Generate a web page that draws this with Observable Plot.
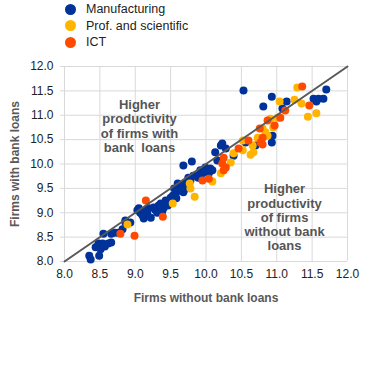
<!DOCTYPE html>
<html><head><meta charset="utf-8">
<script src="https://cdn.jsdelivr.net/npm/d3@7"></script>
<script src="https://cdn.jsdelivr.net/npm/@observablehq/plot@0.6"></script>
<style>
body{margin:0;background:#fff;font-family:"Liberation Sans",Arial,sans-serif;}
#legend{height:50px;position:relative;}
.item{position:absolute;left:65px;height:16px;display:flex;align-items:center;font-size:12.5px;color:#222;}
.sw{width:11px;height:11px;border-radius:50%;margin-right:10px;}
svg text{white-space:pre;}
</style></head><body>
<div id="legend"></div><div id="chart"></div>
<script>
const seriesNames = ["Manufacturing", "Prof. and scientific", "ICT"];
const seriesColors = ["#003299", "#FFB400", "#FF4B00"];
const ticks = [8.0, 8.5, 9.0, 9.5, 10.0, 10.5, 11.0, 11.5, 12.0];
const diagonal = [8, 12];

const manufacturing = [
  [8.35,8.12],[8.37,8.04],[8.49,8.12],[8.44,8.29],[8.48,8.37],[8.54,8.37],[8.51,8.25],[8.57,8.31],
  [8.62,8.37],[8.66,8.39],[8.55,8.57],[8.66,8.57],[8.71,8.59],[8.76,8.59],[8.82,8.66],[8.93,8.80],
  [8.86,8.84],[8.86,8.80],[9.05,9.09],[9.07,9.00],[9.12,8.88],[9.17,8.98],[9.22,8.90],[9.26,9.11],
  [9.31,9.00],[9.36,9.19],[9.40,9.09],[9.46,9.15],[9.50,9.31],[9.57,9.39],[9.60,9.60],[9.64,9.50],
  [9.68,9.42],[9.71,9.60],[9.75,9.72],[9.88,9.76],[9.92,9.87],[9.99,9.93],[9.68,9.97],[9.80,10.05],
  [9.03,9.05],[9.19,9.09],[9.33,9.15],[9.43,9.25],[9.53,9.35],[9.62,9.45],[9.55,9.50],[9.78,9.66],
  [9.10,8.95],[9.14,9.04],[9.28,9.06],[9.38,9.02],[9.48,9.22],[9.58,9.30],[9.66,9.56],[9.72,9.50],
  [9.95,9.81],[9.82,9.76],[9.89,9.72],[10.04,9.81],[10.09,9.87],[10.06,9.91],[10.16,10.07],[10.13,10.24],
  [10.21,10.38],[10.23,10.42],[10.28,10.32],[10.39,10.17],[10.56,10.44],[10.70,10.38],[10.93,10.44],
  [10.94,10.58],[10.53,11.51],[10.93,11.38],[10.81,11.18],[11.14,11.28],[11.08,11.14],[11.52,11.34],
  [11.59,11.34],[11.66,11.34],[11.56,11.28],[11.70,11.53]
];
const profScientific = [
  [8.89,8.76],[9.53,9.19],[9.77,9.60],[9.78,9.50],[9.84,9.33],[10.09,9.64],[10.21,9.81],[10.35,10.03],
  [10.39,10.22],[10.52,10.48],[10.52,10.28],[10.63,10.19],[10.67,10.24],[10.66,10.38],[10.73,10.54],
  [10.84,10.65],[10.87,10.58],[10.91,10.93],[10.95,10.75],[10.80,10.73],[11.01,10.95],[11.04,11.28],
  [11.25,11.32],[11.29,11.57],[11.35,11.24],[11.44,10.97],[11.56,11.04]
];
const ict = [
  [8.79,8.57],[8.99,8.53],[9.15,9.25],[9.39,8.92],[9.95,9.66],[10.04,9.70],[10.25,10.13],[10.23,10.01],
  [10.28,9.93],[10.25,9.87],[10.46,10.32],[10.60,10.48],[10.77,10.44],[10.80,10.54],[10.80,10.40],
  [10.76,10.73],[10.87,10.89],[10.97,10.79],[11.05,10.95],[11.12,11.10],[11.36,11.59],[11.46,11.20]
];
const annotations = [
  {x: 9.06, y: 10.78, text: "Higher\nproductivity\nof firms with\nbank  loans"},
  {x: 11.11, y: 8.91, text: "Higher\nproductivity\nof firms\nwithout bank\nloans"}
];

const legend = document.getElementById("legend");
seriesNames.forEach((name, i) => {
  const d = document.createElement("div");
  d.className = "item";
  d.style.top = (1 + i * 16.5) + "px";
  d.innerHTML = `<span class="sw" style="background:${seriesColors[i]}"></span>${name}`;
  legend.appendChild(d);
});

const seriesData = [manufacturing, profScientific, ict];
const points = seriesData.flatMap((arr, i) => arr.map(([x, y]) => ({x, y, s: seriesNames[i]})));

const chart = Plot.plot({
  width: 375,
  height: 342,
  marginTop: 16,
  marginLeft: 64,
  marginRight: 28,
  marginBottom: 131,
  style: {fontFamily: "'Liberation Sans', Arial, sans-serif", fontSize: "12px", background: "#fff"},
  x: {domain: [8, 12], ticks: ticks},
  y: {domain: [8, 12], ticks: ticks},
  color: {domain: seriesNames, range: seriesColors},
  marks: [
    Plot.gridX(ticks, {stroke: "#d9d9d9", strokeOpacity: 1}),
    Plot.gridY(ticks, {stroke: "#d9d9d9", strokeOpacity: 1}),
    Plot.axisX(ticks, {tickSize: 0, tickPadding: 8, tickFormat: d3.format(".1f"), fill: "#222", fontSize: 12,
      label: "Firms without bank loans", labelAnchor: "center", labelArrow: "none", labelOffset: 40}),
    Plot.axisY(ticks, {tickSize: 4, tickPadding: 7, stroke: "#d9d9d9", tickFormat: d3.format(".1f"), fill: "#222", fontSize: 12,
      label: "Firms with bank loans", labelAnchor: "center", labelArrow: "none", labelOffset: 54}),
    Plot.dot(points, {x: "x", y: "y", fill: "s", r: 4, stroke: "none"}),
    Plot.line(diagonal, {x: d => d, y: d => d, stroke: "#595959", strokeWidth: 2}),
    Plot.text(annotations, {x: "x", y: "y", text: "text", fontSize: 13, fontWeight: "bold", fill: "#555",
      lineAnchor: "middle", lineHeight: 1.09, textAnchor: "middle"})
  ]
});
chart.querySelectorAll("[aria-label='x-axis label'] text, [aria-label='y-axis label'] text").forEach(t => {
  t.setAttribute("font-weight", "bold"); t.setAttribute("fill", "#595959");
});
document.getElementById("chart").appendChild(chart);
</script>
</body></html>
